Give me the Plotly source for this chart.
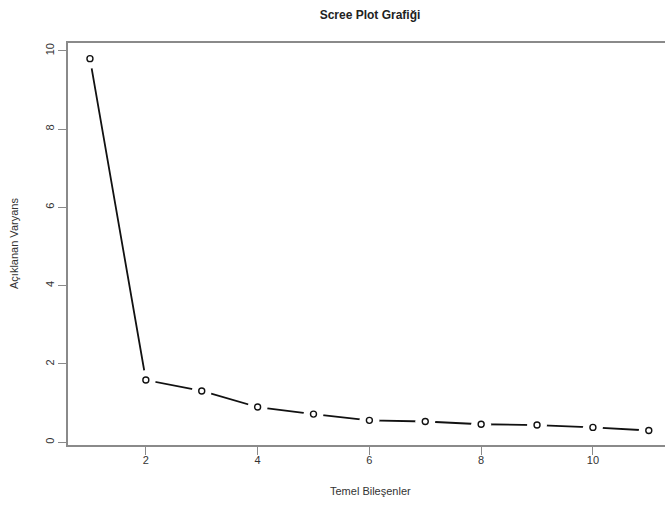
import plotly.graph_objects as go

components = [1, 2, 3, 4, 5, 6, 7, 8, 9, 10, 11]
variance = [9.80, 1.59, 1.31, 0.90, 0.72, 0.56, 0.53, 0.46, 0.44, 0.38, 0.30]
x_ticks = [2, 4, 6, 8, 10]
y_ticks = [0, 2, 4, 6, 8, 10]

title_text = "Scree Plot Grafiği"
x_title = "Temel Bileşenler"
y_title = "Açıklanan Varyans"

FONT = "Liberation Sans, Arial, sans-serif"
AX = "#8a8a8a"
TXT = "#333333"

fig = go.Figure()
# connecting line
fig.add_trace(go.Scatter(x=components, y=variance, mode="lines",
                         line=dict(color="#111111", width=1.8),
                         hoverinfo="skip", showlegend=False))
# white gaps around points (R type="b")
fig.add_trace(go.Scatter(x=components, y=variance, mode="markers",
                         marker=dict(color="white", size=20, line=dict(width=0)),
                         hoverinfo="skip", showlegend=False))
# open circles
fig.add_trace(go.Scatter(x=components, y=variance, mode="markers",
                         marker=dict(symbol="circle-open", color="#111111", size=6,
                                     line=dict(width=1.4, color="#111111")),
                         showlegend=False))

fig.update_layout(
    width=665, height=516,
    margin=dict(l=68, r=0, t=43, b=71),
    paper_bgcolor="white", plot_bgcolor="white",
    font=dict(family=FONT, color=TXT, size=11),
    title=dict(text="<b>" + title_text + "</b>", x=370 / 665, xanchor="center",
               y=1 - 15 / 516, yanchor="middle",
               font=dict(family=FONT, size=12, color="#222222")),
    xaxis=dict(range=[0.607, 11.29], tickvals=x_ticks, ticks="outside", ticklen=8,
               tickwidth=1, tickcolor=AX, showgrid=False, zeroline=False,
               showline=True, linecolor=AX, linewidth=2, mirror=True,
               automargin=False, ticklabelstandoff=-4,
               tickfont=dict(family=FONT, size=11, color=TXT)),
    yaxis=dict(range=[-0.07, 10.2], tickvals=y_ticks, ticks="outside", ticklen=8,
               tickwidth=1, tickcolor=AX, showgrid=False, zeroline=False,
               showline=True, linecolor=AX, linewidth=2, tickangle=-90,
               automargin=False,
               tickfont=dict(family=FONT, size=11, color=TXT)),
    annotations=[
        dict(text=x_title, xref="paper", yref="paper", x=(370 - 68) / 597, y=0,
             yshift=-46, xanchor="center", yanchor="middle", showarrow=False,
             font=dict(family=FONT, size=11, color=TXT)),
        dict(text=y_title, xref="paper", yref="paper", x=0, y=0.5,
             xshift=-54, xanchor="center", yanchor="middle", textangle=-90,
             showarrow=False, font=dict(family=FONT, size=11, color=TXT)),
    ],
)
fig.write_html("out.html", config={"displayModeBar": False},
               post_script="document.body.style.margin='0';document.body.style.overflow='hidden';")
